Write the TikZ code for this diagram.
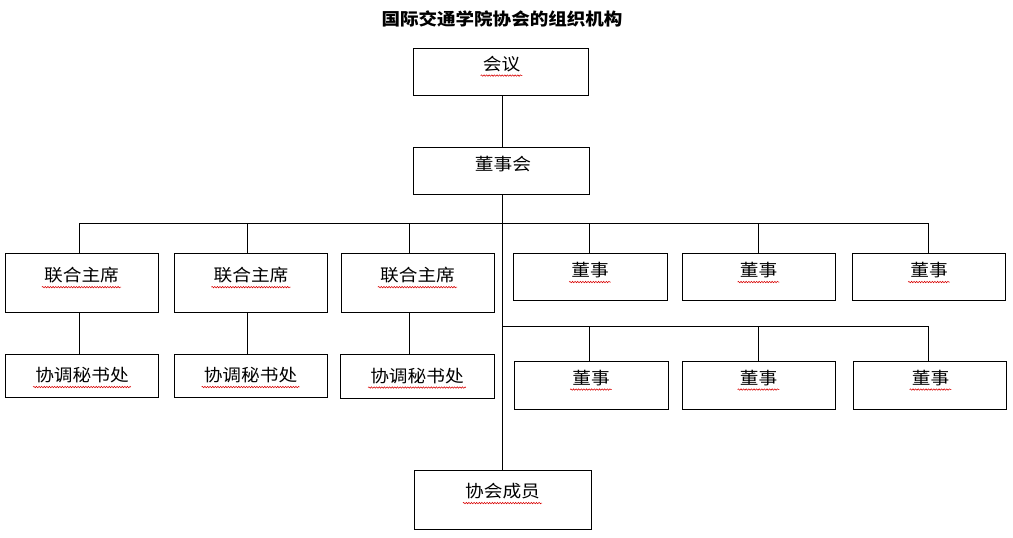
\documentclass[tikz,border=0pt]{standalone}
\usepackage{fontspec}
\newfontfamily\cjk[FakeStretch=1.1]{Noto Sans CJK SC}
\newfontfamily\cjkt[FakeStretch=1.09]{Noto Sans CJK SC}
\usetikzlibrary{decorations.pathmorphing}
\tikzset{
  bx/.style={draw, line width=1pt, rectangle, inner sep=0pt},
  lbl/.style={inner sep=0pt, font=\cjk\fontsize{17}{20}\selectfont},
  conn/.style={line width=1pt},
  squig/.style={draw=red!85!black, line width=0.55pt, decorate,
    decoration={snake, amplitude=0.7pt, segment length=2.6pt}},
}
\newcommand{\sq}[1]{\draw[squig] ([xshift=-2pt,yshift=-3.5pt]#1.south west) -- ([xshift=2pt,yshift=-3.5pt]#1.south east);}
\begin{document}
\begin{tikzpicture}[x=1pt,y=-1pt]
\useasboundingbox[fill=white] (0,0) rectangle (1013,538);
% title
\node[inner sep=0pt, font=\cjkt\bfseries\fontsize{17}{20}\selectfont] (title) at (502,18.5) {国际交通学院协会的组织机构};
% boxes
\node[bx, minimum width=175pt, minimum height=47pt] (hy) at (500.5,71.5) {};
\node[bx, minimum width=176pt, minimum height=47pt] (dsh) at (501,170.5) {};
\node[bx, minimum width=153pt, minimum height=59pt] (lz1) at (81.5,282.5) {};
\node[bx, minimum width=153pt, minimum height=59pt] (lz2) at (250.5,282.5) {};
\node[bx, minimum width=153pt, minimum height=59pt] (lz3) at (417.5,282.5) {};
\node[bx, minimum width=153pt, minimum height=43pt] (ms1) at (81.5,375.5) {};
\node[bx, minimum width=153pt, minimum height=43pt] (ms2) at (250.5,375.5) {};
\node[bx, minimum width=154pt, minimum height=44pt] (ms3) at (417,376) {};
\node[bx, minimum width=154pt, minimum height=47pt] (ds1) at (590,276.5) {};
\node[bx, minimum width=153pt, minimum height=47pt] (ds2) at (758.5,276.5) {};
\node[bx, minimum width=153pt, minimum height=47pt] (ds3) at (928.5,276.5) {};
\node[bx, minimum width=154pt, minimum height=48pt] (ds4) at (591,385) {};
\node[bx, minimum width=153pt, minimum height=48pt] (ds5) at (758.5,385) {};
\node[bx, minimum width=153pt, minimum height=48pt] (ds6) at (929.5,385) {};
\node[bx, minimum width=177pt, minimum height=59pt] (cy) at (502.5,499.5) {};
% labels
\node[lbl] (thy) at (501.5,64) {会议}; \sq{thy}
\node[lbl] (tdsh) at (503,164) {董事会};
\node[lbl] (tlz1) at (81.5,275.5) {联合主席}; \sq{tlz1}
\node[lbl] (tlz2) at (251,275.5) {联合主席}; \sq{tlz2}
\node[lbl] (tlz3) at (417.5,275.5) {联合主席}; \sq{tlz3}
\node[lbl] (tms1) at (82,375.5) {协调秘书处}; \sq{tms1}
\node[lbl] (tms2) at (250.5,375.5) {协调秘书处}; \sq{tms2}
\node[lbl] (tms3) at (417,376) {协调秘书处}; \sq{tms3}
\node[lbl] (tds1) at (590,270.5) {董事}; \sq{tds1}
\node[lbl] (tds2) at (758.5,270.5) {董事}; \sq{tds2}
\node[lbl] (tds3) at (929,270.5) {董事}; \sq{tds3}
\node[lbl] (tds4) at (591,378) {董事}; \sq{tds4}
\node[lbl] (tds5) at (758.5,378) {董事}; \sq{tds5}
\node[lbl] (tds6) at (930.5,378) {董事}; \sq{tds6}
\node[lbl] (tcy) at (502.5,491.5) {协会成员}; \sq{tcy}
% bus coordinates
\coordinate (d1) at (79,223);
\coordinate (d2) at (247,223);
\coordinate (d3) at (409,223);
\coordinate (e1) at (589,223);
\coordinate (e2) at (758,223);
\coordinate (e3) at (928,223);
\coordinate (f0) at (502,326);
\coordinate (f1) at (589,326);
\coordinate (f2) at (758,326);
\coordinate (f3) at (928,326);
% connectors
\draw[conn] (hy.south -| f0) -- (dsh.north -| f0);
\draw[conn] (dsh.south -| f0) -- (cy.north -| f0);
\draw[conn] (d1) -- (e3);
\draw[conn] (d1) -- (d1 |- lz1.north);
\draw[conn] (d2) -- (d2 |- lz2.north);
\draw[conn] (d3) -- (d3 |- lz3.north);
\draw[conn] (e1) -- (e1 |- ds1.north);
\draw[conn] (e2) -- (e2 |- ds2.north);
\draw[conn] (e3) -- (e3 |- ds3.north);
\draw[conn] (lz1.south -| d1) -- (ms1.north -| d1);
\draw[conn] (lz2.south -| d2) -- (ms2.north -| d2);
\draw[conn] (lz3.south -| d3) -- (ms3.north -| d3);
\draw[conn] (f0) -- (f3);
\draw[conn] (f1) -- (f1 |- ds4.north);
\draw[conn] (f2) -- (f2 |- ds5.north);
\draw[conn] (f3) -- (f3 |- ds6.north);
\end{tikzpicture}
\end{document}
